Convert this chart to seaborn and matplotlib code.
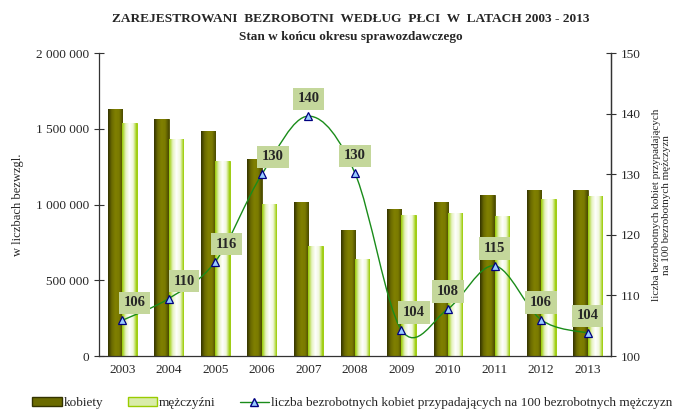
import numpy as np
import pandas as pd
import seaborn as sns
import matplotlib.pyplot as plt
from matplotlib.colors import LinearSegmentedColormap
from matplotlib.path import Path
from matplotlib.patches import PathPatch, Patch
from matplotlib.lines import Line2D
from matplotlib.ticker import FuncFormatter

# dane
lata = ["2003", "2004", "2005", "2006", "2007", "2008", "2009", "2010", "2011", "2012", "2013"]
kobiety = [1630000, 1564000, 1483000, 1302000, 1014000, 832000, 970000, 1014000, 1061000, 1096000, 1096000]
mezczyzni = [1536000, 1430000, 1285000, 1001000, 726000, 640000, 929000, 942000, 922000, 1036000, 1054000]
wskaznik = [105.9, 109.5, 115.6, 130.0, 139.6, 130.2, 104.3, 107.8, 114.9, 106.0, 103.8]

# przesuniecia etykiet (punkty)
dx_etykiet = [9, 11, 8, 8, 0, 0, 9, 0, 0, 0, 0]

df = pd.DataFrame({
    "rok": lata * 2,
    "liczba": kobiety + mezczyzni,
    "plec": ["kobiety"] * len(lata) + ["mężczyźni"] * len(lata),
})

sns.set_style("white")
plt.rcParams["font.family"] = ["Liberation Serif", "DejaVu Serif"]

fig = plt.figure(figsize=(6.78, 4.15), dpi=100)
ax = fig.add_axes([0.146, 0.142, 0.755, 0.730])

sns.barplot(data=df, x="rok", y="liczba", hue="plec", ax=ax, width=0.62,
            gap=0, palette=["#808000", "#99cc00"], legend=False, errorbar=None)

cm_k = LinearSegmentedColormap.from_list("k", ["#333300", "#6b6b00", "#808000", "#7a7a00", "#4a4a00"])
cm_m = LinearSegmentedColormap.from_list("m", ["#99cc00", "#e6f2c0", "#ffffff", "#f0f7dc", "#99cc00"])
grad = np.linspace(0, 1, 64).reshape(1, -1)
n = len(lata)
for i, p in enumerate(ax.patches[:2 * n]):
    cm = cm_k if i < n else cm_m
    x0, w, h = p.get_x(), p.get_width(), p.get_height()
    p.set_edgecolor("#4d4d00" if i < n else "#99cc00")
    p.set_linewidth(0.6)
    im = ax.imshow(grad, cmap=cm, extent=[x0, x0 + w, 0, h], aspect="auto", zorder=2)
    im.set_clip_path(p)

ax.set_xlim(-0.5, n - 0.5)
ax.set_ylim(0, 2000000)
ax.set_yticks([0, 500000, 1000000, 1500000, 2000000])
ax.yaxis.set_major_formatter(FuncFormatter(lambda v, _: f"{int(v):,}".replace(",", " ")))
ax.set_xticks(range(n))
ax.set_xticklabels(lata)
ax.set_xticks(np.arange(-0.5, n, 1.0), minor=True)
ax.tick_params(axis="x", which="major", length=0, labelsize=9.5, pad=6)
ax.tick_params(axis="x", which="minor", direction="inout", length=7, width=0.8, color="#333333")
ax.tick_params(axis="y", direction="inout", length=7, width=0.8, color="#333333", labelsize=9.5, left=True)
ax.set_xlabel("")
ax.set_ylabel("w liczbach bezwzgl.", fontsize=9, labelpad=9)
for s in ["left", "bottom", "right"]:
    ax.spines[s].set_color("#333333")
    ax.spines[s].set_linewidth(0.9)
ax.spines["top"].set_visible(False)

ax2 = ax.twinx()
ax2.set_ylim(100, 150)
ax2.set_yticks([100, 110, 120, 130, 140, 150])
ax2.tick_params(axis="y", direction="inout", length=7, width=0.8, color="#333333", labelsize=9.5)
for s in ["left", "bottom", "top"]:
    ax2.spines[s].set_visible(False)
ax2.spines["right"].set_color("#333333")
ax2.spines["right"].set_linewidth(0.9)
ax2.set_ylabel("liczba bezrobotnych kobiet przypadających\nna 100 bezrobotnych mężczyzn",
               fontsize=8, labelpad=8, rotation=90)

# wygladzona linia (krzywe Beziera jak w Excelu)
pts = np.column_stack([np.arange(n), wskaznik])
verts = [pts[0]]
codes = [Path.MOVETO]
for i in range(n - 1):
    p_prev = pts[max(i - 1, 0)]
    p_next2 = pts[min(i + 2, n - 1)]
    c1 = pts[i] + (pts[i + 1] - p_prev) / 6
    c2 = pts[i + 1] - (p_next2 - pts[i]) / 6
    verts += [c1, c2, pts[i + 1]]
    codes += [Path.CURVE4] * 3
ax2.add_patch(PathPatch(Path(verts, codes), fill=False, edgecolor="#1a8c1a", lw=1.0, zorder=4))
ax2.plot(range(n), wskaznik, linestyle="none", marker="^", markersize=6,
         markerfacecolor="#99ccff", markeredgecolor="#000080", markeredgewidth=0.9, zorder=5)

for i, v in enumerate(wskaznik):
    ax2.annotate(f"{round(v)}", (i, v), xytext=(dx_etykiet[i], 12.5), textcoords="offset points",
                 ha="center", va="center", fontsize=10.5, fontweight="bold", zorder=6,
                 bbox=dict(boxstyle="square,pad=0.32", fc="#c4d79b", ec="none"))

fig.text(0.517, 0.955, "ZAREJESTROWANI  BEZROBOTNI  WEDŁUG  PŁCI  W  LATACH 2003 - 2013",
         ha="center", va="center", fontsize=9.6, fontweight="bold")
fig.text(0.517, 0.912, "Stan w końcu okresu sprawozdawczego",
         ha="center", va="center", fontsize=9.5, fontweight="bold")

handles = [
    Patch(facecolor="#6b6b00", edgecolor="#333300", label="kobiety"),
    Patch(facecolor="#d9ecaa", edgecolor="#99cc00", label="mężczyźni"),
    Line2D([0], [0], color="#1a8c1a", lw=1.0, marker="^", markersize=6,
           markerfacecolor="#99ccff", markeredgecolor="#000080",
           label="liczba bezrobotnych kobiet przypadających na 100 bezrobotnych mężczyzn"),
]
fig.legend(handles=handles, loc="lower center", bbox_to_anchor=(0.52, -0.015), ncol=3,
           frameon=False, fontsize=9.5, handlelength=2.2, handletextpad=0.2, columnspacing=1.8)

fig.savefig("out.png", dpi=100)
